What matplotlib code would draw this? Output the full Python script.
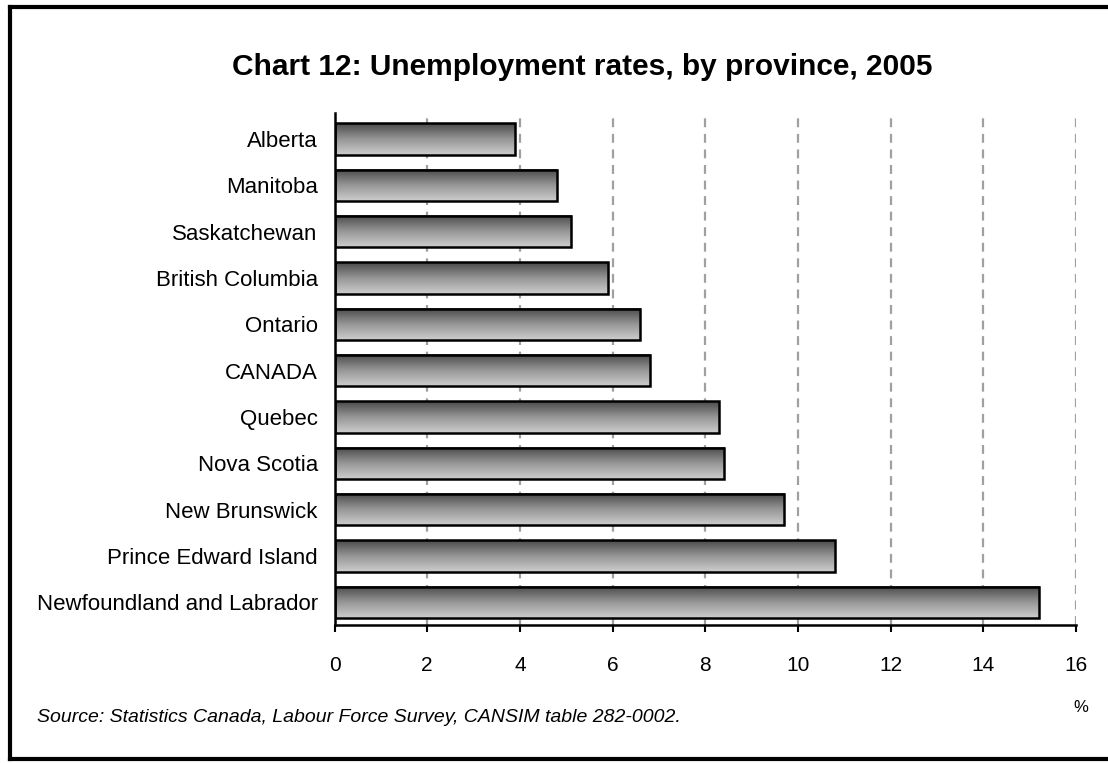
import numpy as np
import matplotlib
matplotlib.use('Agg')
import matplotlib.pyplot as plt
from matplotlib.colors import LinearSegmentedColormap
from matplotlib.lines import Line2D

provinces = ['Alberta', 'Manitoba', 'Saskatchewan', 'British Columbia', 'Ontario',
             'CANADA', 'Quebec', 'Nova Scotia', 'New Brunswick',
             'Prince Edward Island', 'Newfoundland and Labrador']
rates = [3.9, 4.8, 5.1, 5.9, 6.6, 6.8, 8.3, 8.4, 9.7, 10.8, 15.2]
x_ticks = [0, 2, 4, 6, 8, 10, 12, 14, 16]

plt.rcParams['font.family'] = ['Liberation Sans', 'DejaVu Sans']

W, H = 1108, 763
fig = plt.figure(figsize=(W / 100, H / 100), dpi=100)
# axes box in pixels: left 334.5, right 1076, top 113, bottom 625
ax = fig.add_axes([334.5 / W, 1 - 625 / H, (1076 - 334.5) / W, (625 - 113) / H])

ypos = np.arange(len(provinces))
bar_h = 0.68
grad = np.linspace(0, 1, 64).reshape(-1, 1)
cmap = LinearSegmentedColormap.from_list('bar', ['#4a4a4a', '#969696', '#cdcdcd'])

for y, v in zip(ypos, rates):
    ax.imshow(grad, cmap=cmap, aspect='auto', interpolation='bilinear',
              extent=[0, v, y + bar_h / 2, y - bar_h / 2], zorder=2)
ax.barh(ypos, rates, height=bar_h, facecolor='none', edgecolor='black',
        linewidth=1.8, zorder=3)

ax.set_xlim(0, 16)
ax.set_ylim(10.49, -0.56)
ax.set_xticks(x_ticks)
ax.set_xticklabels([str(t) for t in x_ticks], fontsize=15)
ax.set_yticks(ypos)
ax.set_yticklabels(provinces, fontsize=16)
ax.tick_params(axis='y', length=0, pad=12)
ax.tick_params(axis='x', direction='out', length=5, width=1.5, pad=17)

for t in x_ticks[1:]:
    ax.axvline(t, color='#a0a0a0', linewidth=1.6, linestyle=(0, (4, 3)), zorder=1)

for side in ('top', 'right'):
    ax.spines[side].set_visible(False)
ax.spines['left'].set_linewidth(1.8)
ax.spines['bottom'].set_linewidth(1.8)

fig.text(582 / W, 1 - 67 / H, 'Chart 12: Unemployment rates, by province, 2005',
         ha='center', va='center', fontsize=21.5, fontweight='bold')
fig.text(37 / W, 1 - 717 / H,
         'Source: Statistics Canada, Labour Force Survey, CANSIM table 282-0002.',
         ha='left', va='center', fontsize=14, style='italic')
fig.text(1081 / W, 1 - 707 / H, '%', ha='center', va='center', fontsize=12)

# outer frame (left, top, bottom)
for xs, ys in [([10, 10], [7, 759]), ([10, W], [7, 7]), ([10, W], [759, 759])]:
    fig.add_artist(Line2D([x / W for x in xs], [1 - y / H for y in ys],
                          color='black', linewidth=3, transform=fig.transFigure))

fig.savefig('out.png', dpi=100)
